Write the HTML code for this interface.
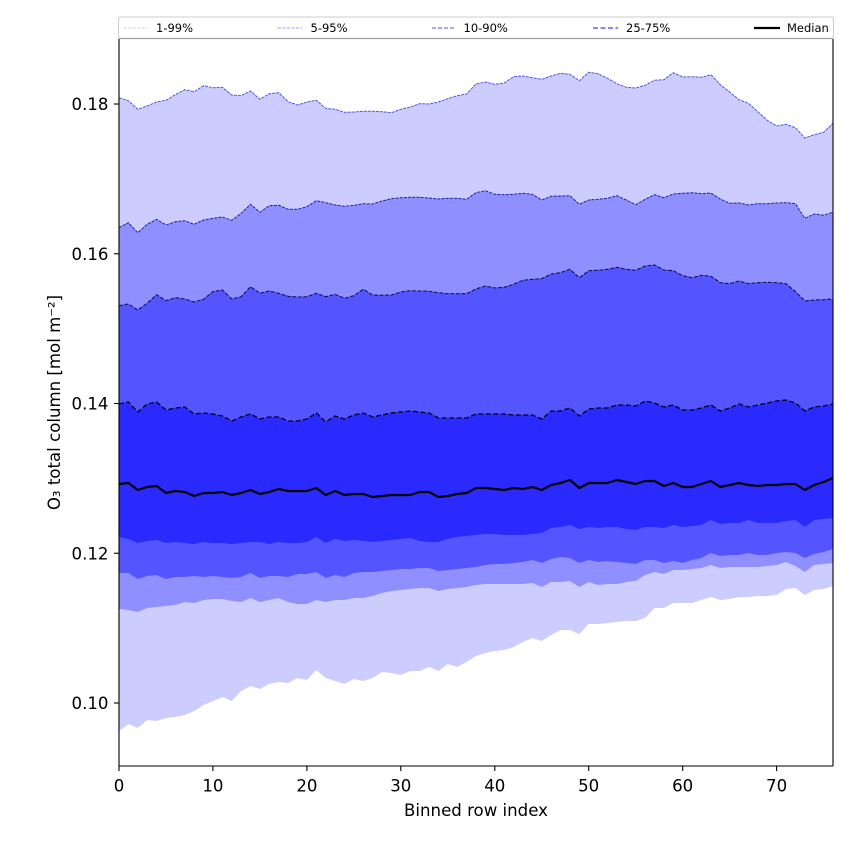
<!DOCTYPE html>
<html><head><meta charset="utf-8">
<style>
html,body{margin:0;padding:0;background:#fff;}
svg{display:block;}
text{font-family:"DejaVu Sans","Liberation Sans",sans-serif;fill:#000;}
</style></head>
<body>
<svg id="s" width="850" height="850" viewBox="0 0 850 850" xmlns="http://www.w3.org/2000/svg">
<defs><clipPath id="c"><rect x="119" y="39" width="714" height="727"/></clipPath></defs>
<rect width="850" height="850" fill="#fff"/>
<g id="plot" clip-path="url(#c)"></g>
<!-- spines -->
<line x1="119" y1="766" x2="833" y2="766" stroke="#000" stroke-width="1.1"/>
<line x1="119" y1="39" x2="119" y2="766" stroke="#000" stroke-width="1.1"/>
<line x1="833" y1="39" x2="833" y2="766" stroke="#000" stroke-width="1.1"/>
<!-- ticks -->
<g stroke="#000" stroke-width="1.1">
<line x1="119" y1="766" x2="119" y2="771"/>
<line x1="212.9" y1="766" x2="212.9" y2="771"/>
<line x1="306.9" y1="766" x2="306.9" y2="771"/>
<line x1="400.8" y1="766" x2="400.8" y2="771"/>
<line x1="494.8" y1="766" x2="494.8" y2="771"/>
<line x1="588.7" y1="766" x2="588.7" y2="771"/>
<line x1="682.7" y1="766" x2="682.7" y2="771"/>
<line x1="776.6" y1="766" x2="776.6" y2="771"/>
<line x1="114" y1="703" x2="119" y2="703"/>
<line x1="114" y1="553.25" x2="119" y2="553.25"/>
<line x1="114" y1="403.5" x2="119" y2="403.5"/>
<line x1="114" y1="253.75" x2="119" y2="253.75"/>
<line x1="114" y1="104" x2="119" y2="104"/>
</g>
<g font-size="16.6" text-anchor="middle">
<text x="119" y="791.5">0</text>
<text x="212.9" y="791.5">10</text>
<text x="306.9" y="791.5">20</text>
<text x="400.8" y="791.5">30</text>
<text x="494.8" y="791.5">40</text>
<text x="588.7" y="791.5">50</text>
<text x="682.7" y="791.5">60</text>
<text x="776.6" y="791.5">70</text>
</g>
<g font-size="16.6" text-anchor="end">
<text x="108.5" y="709">0.10</text>
<text x="108.5" y="559.25">0.12</text>
<text x="108.5" y="409.5">0.14</text>
<text x="108.5" y="259.75">0.16</text>
<text x="108.5" y="110">0.18</text>
</g>
<text x="476" y="816" font-size="16.6" text-anchor="middle">Binned row index</text>
<text transform="translate(60,402.5) rotate(-90)" font-size="16.6" text-anchor="middle">O₃ total column [mol m⁻²]</text>
<!-- legend -->
<rect x="118.5" y="17" width="715" height="21.5" rx="2" ry="2" fill="#fff" fill-opacity="0.9" stroke="#cccccc" stroke-width="1"/>
<line x1="119" y1="38.5" x2="833" y2="38.5" stroke="#a0a0a0" stroke-width="1.2"/>
<line x1="124" y1="28" x2="148" y2="28" stroke="#ccccff" stroke-width="1" stroke-dasharray="3,1.5"/>
<text x="156" y="32" font-size="11.5">1-99%</text>
<line x1="278" y1="28" x2="302" y2="28" stroke="#9999ff" stroke-width="1" stroke-dasharray="3,1.5"/>
<text x="310.5" y="32" font-size="11.5">5-95%</text>
<line x1="432" y1="28" x2="456" y2="28" stroke="#7777ee" stroke-width="1.2" stroke-dasharray="4,2"/>
<text x="463.5" y="32" font-size="11.5">10-90%</text>
<line x1="593" y1="28" x2="618" y2="28" stroke="#6060f0" stroke-width="1.6" stroke-dasharray="5,2.5"/>
<text x="626" y="32" font-size="11.5">25-75%</text>
<line x1="754" y1="28" x2="780" y2="28" stroke="#000" stroke-width="2.2"/>
<text x="787" y="32" font-size="11.5">Median</text>
</svg>
<script>
(function(){
var U1=[97.7,100.7,109.3,106,102,100.3,94.7,89.7,91.7,85.7,87.7,87.3,95,95.7,91,99.3,93.7,92.7,101.7,105,102,100.3,108.3,109.3,112.3,112,111.3,111.3,111.7,112.7,109.3,107,103.7,104,102,98.7,95.7,94,84,82,84.3,83,76.7,76,77.7,79.3,76,73.3,74.3,80.7,72.3,73.7,78.3,83.7,87.3,88,85.3,80.3,79.7,72.7,77,76.7,77.3,74.7,84.7,92,99.7,103.3,111.7,120.3,126,124.3,127.7,138,134.7,132.3,123.3];
var U5=[227.7,222.7,232.7,224.3,219.3,225,221.7,220.7,224.3,220,218.3,217,220.3,213.3,204.3,212.3,205.7,205.3,209.3,209.3,206.7,200.7,202.7,205,206.3,205.3,203.7,204,201,198.7,197.7,197.3,197.3,198,199,198.3,198.3,199.3,192.7,190.7,194.3,194.7,194.3,193.3,194.3,200,196.3,196,195.7,204.3,200,199.3,198.3,195.7,200,204.7,199.3,194.7,197.7,194,193.3,192.7,193.7,193,199,203.3,203,205,203.7,203.7,203,202.7,203.7,218.3,214,215.3,212];
var U10=[305.7,304,310,303.3,294.7,300.7,297.7,299,302,299.3,291.7,290,299,296.7,286.7,293.3,291,293.3,296.3,297,296.7,293.3,296.7,294.3,298.3,295.7,289.3,295,295.3,295,292,290.7,291,291.3,292.7,293.7,293.7,293.7,289,286,288,287.3,284.3,280.3,279.3,278.7,274,272.7,269.3,277.7,270.7,270.3,269.3,267.3,269.3,270.3,266,265,270,270.7,275.7,277.7,275.3,276.3,282.7,283.7,281,283.7,282.7,282.3,282.7,283.7,291.7,301,300,299.7,299];
var U25=[404,402,412,404,402,410,408,407,414,413,414,416,421,417,414,419,417,417,421,421,419,413,422,416,419,415,413,417,415,413,412,411,412,413,418,418,418,418,414,414,414,414,415,415,415,419,411,411,408,416,409,408,408,405,405,406,401,403,407,405,410,410,408,405,411,408,404,407,405,403,401,400,403,411,407,406,404];
var M=[484,483,490,487,486,493,491,492,496,493,493,492,495,493,490,494,492,489,491,491,491,488,495,491,495,494,494,497,496,495,495,495,492,492,497,496,494,493,488,488,489,490,488,489,487,490,485,483,480,488,483,483,483,480,482,484,481,481,486,483,487,487,484,481,487,485,483,485,486,485,485,484,484,490,485,482,478];
var L25=[537,539,543,541,540,543,542,543,544,542,543,543,544,543,542,542,544,542,543,543,542,537,543,539,541,540,541,542,541,540,539,538,541,542,542,539,537,536,535,534,534,535,535,535,534,533,528,527,525,529,527,528,527,527,529,530,527,527,528,525,527,526,525,520,524,523,523,520,523,523,523,521,520,527,520,519,518];
var L10=[573,573,579,576,575,579,577,577,576,577,576,577,578,577,573,578,576,576,577,574,574,572,578,575,577,573,572,572,571,570,569,569,568,568,571,570,569,568,567,565,564,564,563,562,560,563,559,557,558,563,560,562,561,562,563,564,560,560,563,561,563,560,558,553,556,555,555,553,555,555,553,552,553,558,554,552,549];
var L5=[609,610,612,608,607,606,605,602,603,600,599,599,601,602,598,602,600,598,602,604,604,600,602,600,600,598,598,596,593,591,590,589,588,588,591,589,588,587,585,584,584,584,584,584,583,587,582,582,581,587,582,585,584,584,582,581,575,572,574,570,570,569,568,565,568,567,567,567,567,566,565,562,566,572,565,564,563];
var L1=[731,724,728,720,721,718,717,715,711,705,701,697,701,691,686,689,684,682,683,678,680,670,678,681,684,679,681,678,672,673,675,671,671,667,671,664,667,662,656,653,651,650,647,642,638,641,635,630,630,634,624,624,623,622,621,621,618,608,608,603,603,603,600,597,600,599,597,597,596,596,595,589,588,595,590,589,586];
function X(i){return (119+i*714/76).toFixed(2);}
function line(a){var s='';for(var i=0;i<a.length;i++){s+=(i?'L':'M')+X(i)+','+a[i];}return s;}
function band(u,l){var s=line(u);for(var i=l.length-1;i>=0;i--){s+='L'+X(i)+','+l[i];}return s+'Z';}
var g=document.getElementById('plot');var ns='http://www.w3.org/2000/svg';
function p(d,attrs){var e=document.createElementNS(ns,'path');e.setAttribute('d',d);for(var k in attrs)e.setAttribute(k,attrs[k]);g.appendChild(e);}
p(band(U1,L1),{fill:'#ccccff'});
p(band(U5,L5),{fill:'#8f8fff'});
p(band(U10,L10),{fill:'#5555ff'});
p(band(U25,L25),{fill:'#2a2aff'});
p(line(U1),{fill:'none',stroke:'#5555dd','stroke-width':'1','stroke-dasharray':'3,1'});
p(line(U5),{fill:'none',stroke:'#2020a0','stroke-width':'1','stroke-dasharray':'3,1.2'});
p(line(U10),{fill:'none',stroke:'#121260','stroke-width':'1.1','stroke-dasharray':'4,1.5'});
p(line(U25),{fill:'none',stroke:'#000018','stroke-width':'1.3','stroke-dasharray':'5,2.5'});
p(line(M),{fill:'none',stroke:'#000','stroke-width':'2.2','stroke-linejoin':'round'});
})();
</script>
</body></html>
